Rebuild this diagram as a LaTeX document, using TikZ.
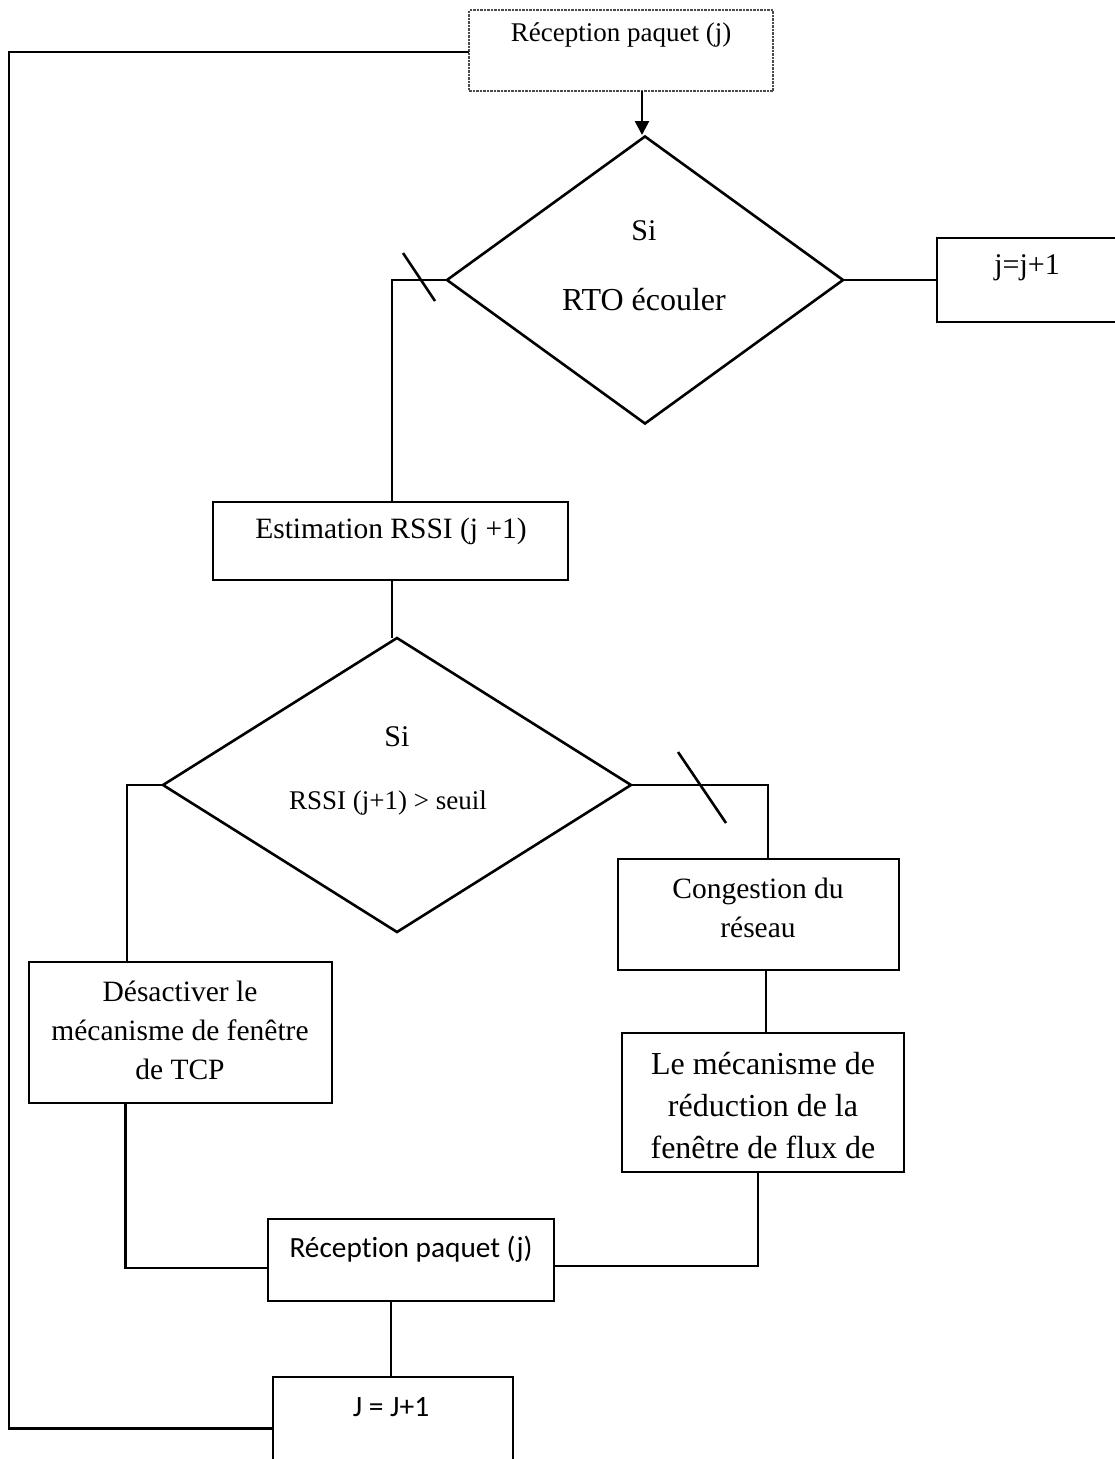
\documentclass[tikz,border=0pt]{standalone}
\usepackage{fontspec}
\setmainfont{Liberation Serif}
\newfontfamily\carlito[Ligatures=NoCommon]{Carlito}
\usetikzlibrary{shapes.geometric,arrows.meta,calc}
\begin{document}
\begin{tikzpicture}[x=1pt,y=-1pt,
  wire/.style={line width=2.6, black},
  box/.style={draw, line width=2.6, rectangle, inner sep=0, outer sep=0},
  softbox/.style={draw=black!70, line width=1.4, dash pattern=on 2.5 off 1, rectangle, inner sep=0, outer sep=0},
  dia/.style={draw, line width=2.6, diamond, inner sep=0, outer sep=0},
  txt/.style={inner sep=0, align=center},
  tick/.style={line width=2.6, black}]

\fill[white] (0,0) rectangle (1114,1459);
\useasboundingbox (0,0) rectangle (1114,1459);

% boxes and decisions
\node[softbox, minimum width=304, minimum height=81] (top) at (621,50.5) {};
\node[txt, font=\fontsize{27}{32}\selectfont] (topt) at (621,35) {Réception paquet (j)};

\node[dia, minimum width=396, minimum height=287] (d1) at (645,280) {};
\node[txt, font=\fontsize{30}{36}\selectfont] (d1a) at (644,231) {Si};
\node[txt, font=\fontsize{32}{38}\selectfont] (d1b) at (644,300) {RTO écouler};

\node[box, minimum width=193, minimum height=84] (inc) at (1033.5,280) {};
\node[txt, font=\fontsize{30}{36}\selectfont] (inct) at (1027,268) {j=j+1};

\node[box, minimum width=355, minimum height=78] (est) at (390.5,541) {};
\node[txt, font=\fontsize{29.5}{35}\selectfont] (estt) at (391,531) {Estimation RSSI (j +1)};

\node[dia, minimum width=468, minimum height=294] (d2) at (397,785) {};
\node[txt, font=\fontsize{30}{36}\selectfont] (d2a) at (397,737) {Si};
\node[txt, font=\fontsize{27}{32}\selectfont] (d2b) at (388,803) {RSSI (j+1) > seuil};

\node[box, minimum width=281, minimum height=111] (cong) at (758.5,914.5) {};
\node[txt, font=\fontsize{29.5}{39}\selectfont] (congt) at (758,907.5) {Congestion du\\réseau};

\node[box, minimum width=282, minimum height=139] (mec) at (763,1102.5) {};
\node[txt, font=\fontsize{32}{42}\selectfont] (mect) at (763,1106) {Le mécanisme de\\réduction de la\\fenêtre de flux de};

\node[box, minimum width=303, minimum height=141] (des) at (180.5,1032.5) {};
\node[txt, font=\fontsize{29.5}{39}\selectfont] (dest) at (180,1030) {Désactiver le\\mécanisme de fenêtre\\de TCP};

\node[box, minimum width=286, minimum height=82] (rec) at (411,1260) {};
\node[txt, font=\carlito\fontsize{29.3}{35}\selectfont] (rect) at (411,1249) {Récept\kern0pt ion paquet (j)};

\node[box, minimum width=240, minimum height=103] (jj) at (393,1428.5) {};
\node[txt, font=\carlito\fontsize{29.5}{35}\selectfont] (jjt) at (391,1407) {J = J+1};

\coordinate (loop) at (9,0);

% connectors
\draw[wire, -{Triangle[length=14,width=14]}] (top.south -| 642,0) -- (642,135);
\draw[wire] (d1.east) -- (inc.west);
\draw[wire] (d1.west) -| ($(est.north)+(1.5,0)$);
\draw[tick] ($(d1.west)+(-44,-27)$) -- ++(32,48);
\draw[wire] ($(est.south)+(1.5,0)$) -- ($(est.south)+(1.5,58)$);
\draw[wire] (d2.east) -| ($(cong.north)+(9.5,0)$);
\draw[tick] ($(d2.east)+(47,-33)$) -- ++(48,71);
\draw[wire] (d2.west) -| ($(des.north)+(-53.5,0)$);
\draw[wire] ($(cong.south)+(7.5,0)$) -- ($(cong.south)+(7.5,63)$);
\draw[wire] ($(mec.south)+(-5,0)$) |- ($(rec.east)+(0,6)$);
\draw[wire] ($(des.south)+(-55,0)$) |- ($(rec.west)+(0,8)$);
\draw[wire] ($(rec.south)+(-20,0)$) -- ($(rec.south)+(-20,76)$);
\draw[wire] (jj.west) -- (jj.west -| loop) |- ($(top.west)+(0,1.5)$);

\end{tikzpicture}
\end{document}
